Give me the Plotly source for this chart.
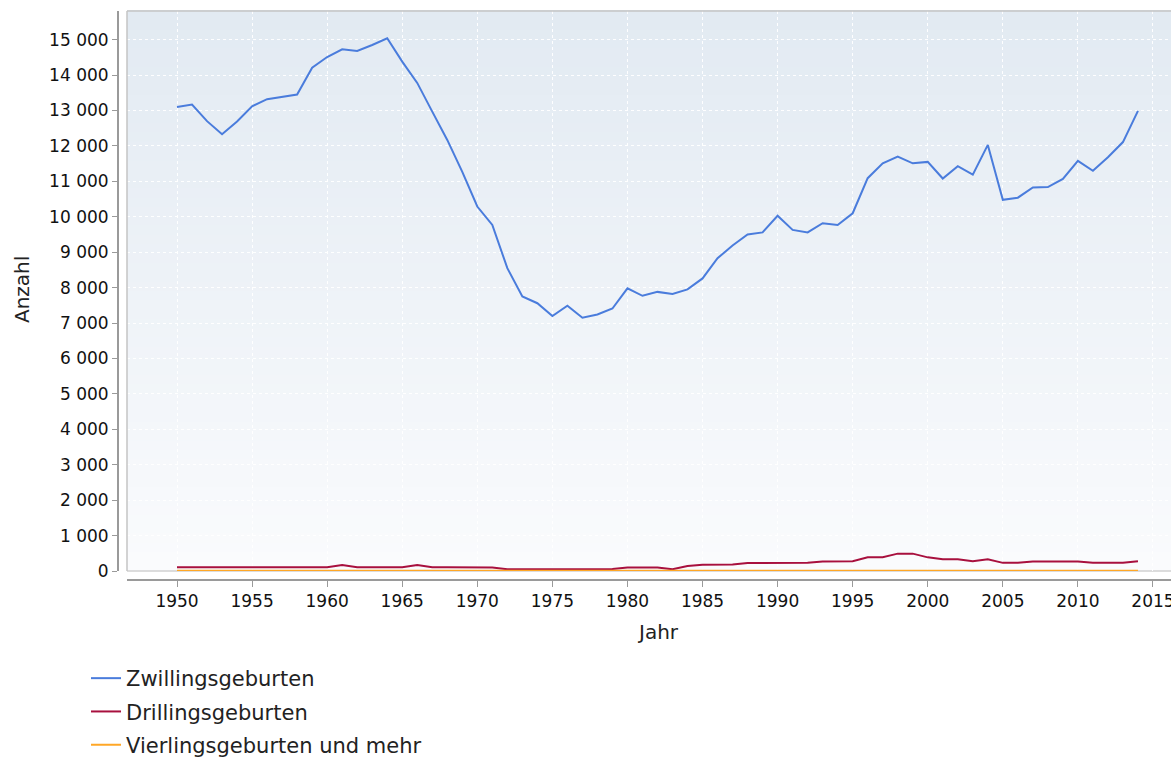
import plotly.graph_objects as go

years = list(range(1950, 2015))

zwillinge = [13100, 13170, 12700, 12330, 12690, 13120, 13320, 13380, 13450, 14210,
             14510, 14730, 14680, 14850, 15040, 14380, 13780, 12970, 12170, 11270,
             10290, 9770, 8550, 7750, 7560, 7200, 7490, 7150, 7240, 7410,
             7980, 7770, 7880, 7820, 7950, 8260, 8830, 9190, 9500, 9560,
             10030, 9630, 9560, 9820, 9770, 10100, 11090, 11510, 11700, 11510,
             11550, 11080, 11430, 11190, 12030, 10480, 10540, 10830, 10840, 11070,
             11580, 11300, 11680, 12110, 12990]

drillinge = [105, 105, 105, 105, 105, 105, 105, 105, 105, 105,
             105, 170, 105, 105, 105, 105, 170, 105, 105, 105,
             105, 100, 50, 48, 48, 48, 48, 48, 50, 55,
             100, 105, 100, 50, 140, 175, 180, 185, 225, 225,
             225, 225, 230, 270, 270, 275, 385, 390, 490, 490,
             385, 330, 330, 275, 330, 230, 230, 270, 270, 270,
             270, 230, 230, 230, 275]

vierlinge = [5, 5, 5, 5, 5, 5, 5, 5, 5, 5,
             5, 5, 5, 5, 5, 5, 5, 5, 5, 5,
             5, 5, 5, 5, 5, 5, 5, 5, 5, 5,
             5, 5, 5, 5, 5, 5, 5, 5, 5, 5,
             10, 10, 10, 10, 10, 10, 10, 10, 10, 10,
             10, 10, 10, 10, 10, 10, 10, 10, 10, 10,
             10, 10, 10, 10, 10]

series_names = ["Zwillingsgeburten", "Drillingsgeburten", "Vierlingsgeburten und mehr"]
series_values = [zwillinge, drillinge, vierlinge]
series_colors = ["#4a7cdc", "#a8103e", "#ffa726"]

fig = go.Figure()
for i, (name, vals, col) in enumerate(zip(series_names, series_values, series_colors)):
    fig.add_trace(go.Scatter(x=years, y=vals, mode="lines", name=name,
                             legendgroup="g%d" % i,
                             line=dict(color=col, width=2)))

# gradient background bands
shapes = []
n = 60
top = (226, 234, 242)
bot = (250, 251, 253)
for i in range(n):
    t = i / (n - 1)
    c = tuple(round(bot[k] + (top[k] - bot[k]) * t) for k in range(3))
    shapes.append(dict(type="rect", xref="x domain", yref="y domain",
                       x0=0, x1=1, y0=i / n, y1=(i + 1) / n + 0.002,
                       fillcolor="rgb(%d,%d,%d)" % c, line=dict(width=0),
                       layer="below"))
border = "#c4c4c4"
shapes.append(dict(type="line", xref="x domain", yref="y domain", x0=0, x1=1, y0=1, y1=1,
                   line=dict(color=border, width=1.5), layer="above"))
shapes.append(dict(type="line", xref="x domain", yref="y domain", x0=0, x1=0, y0=0, y1=1,
                   line=dict(color=border, width=1.5), layer="above"))
shapes.append(dict(type="line", xref="x domain", yref="y domain", x0=0, x1=1, y0=0, y1=0,
                   line=dict(color="#d0d0d0", width=1.5), layer="below"))

W, H = 1171, 759
ml, mt, mb = 118, 11, 179
pw = W - ml
ph = H - mt - mb

fig.update_layout(
    width=W, height=H,
    margin=dict(l=ml, r=0, t=mt, b=mb, pad=0, autoexpand=False),
    paper_bgcolor="white",
    plot_bgcolor="rgba(0,0,0,0)",
    separators=", ",
    font=dict(family="DejaVu Sans", color="#222222"),
    shapes=shapes,
    showlegend=True,
    legend=dict(orientation="v", xref="container", yref="container",
                x=86 / W, xanchor="left",
                y=1 - 658 / H, yanchor="top",
                font=dict(size=21, color="#222222", family="DejaVu Sans"),
                bgcolor="rgba(0,0,0,0)", tracegroupgap=3),
    annotations=[
        dict(text="Anzahl", xref="paper", yref="paper",
             x=(22 - ml) / pw, y=(H - mb - 290) / ph,
             xanchor="center", yanchor="middle", textangle=-90,
             showarrow=False, font=dict(size=20, color="#222222")),
        dict(text="Jahr", xref="paper", yref="paper",
             x=(658 - ml) / pw, y=(H - mb - 632) / ph,
             xanchor="center", yanchor="middle",
             showarrow=False, font=dict(size=20, color="#222222")),
    ],
    xaxis=dict(domain=[9 / pw, 1], range=[1946.67, 2016.2], anchor="free", position=0,
               automargin=False, ticklabeloverflow="allow",
               tickmode="linear", tick0=1950, dtick=5,
               showline=True, linecolor="#9a9a9a", linewidth=2,
               ticks="outside", ticklen=6, tickcolor="#9a9a9a", tickwidth=1,
               tickfont=dict(size=17, color="#111111"),
               showgrid=True, gridcolor="rgba(255,255,255,0.95)", griddash="3px,3px", gridwidth=1,
               zeroline=False),
    yaxis=dict(domain=[9 / ph, 1], range=[0, 15810], anchor="free", position=0,
               automargin=False,
               tickmode="linear", tick0=0, dtick=1000, tickformat=",d",
               showline=True, linecolor="#9a9a9a", linewidth=2,
               ticks="outside", ticklen=5, tickcolor="#9a9a9a", tickwidth=1,
               tickfont=dict(size=17, color="#111111"),
               showgrid=True, gridcolor="rgba(255,255,255,0.95)", griddash="3px,3px", gridwidth=1,
               zeroline=False),
)

fig.write_html("out.html", config={"displayModeBar": False},
               post_script="document.body.style.margin='0';document.body.style.overflow='hidden';")
